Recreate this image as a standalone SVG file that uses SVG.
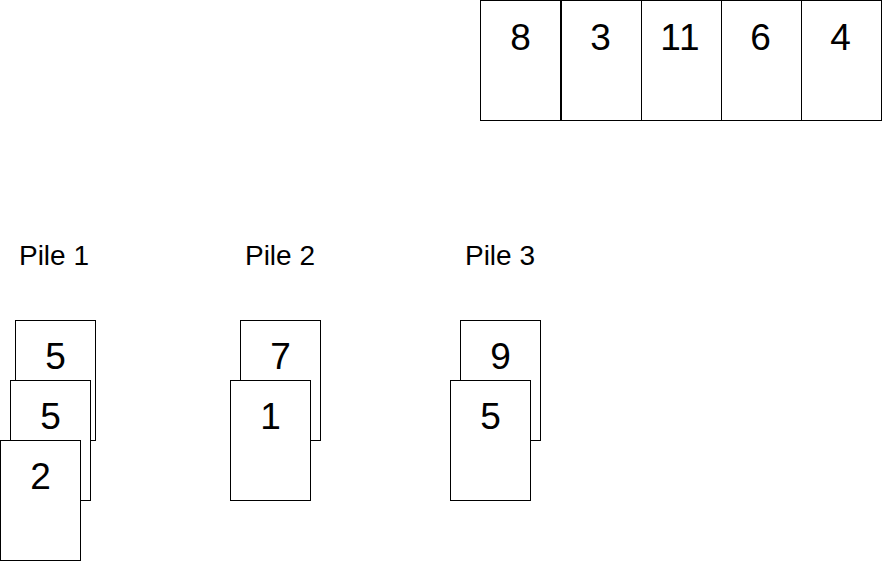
<svg xmlns="http://www.w3.org/2000/svg" width="882" height="561" viewBox="0 0 882 561">
<style>
.card{fill:#fff;stroke:#000;stroke-width:1}
.num{font-family:"Liberation Sans",Arial,sans-serif;font-size:37px;fill:#000;text-anchor:middle}
.lbl{font-family:"Liberation Sans",Arial,sans-serif;font-size:28px;fill:#000;text-anchor:middle}
</style>
<rect width="882" height="561" fill="#fff"/>
<g id="row">
<g id="c8"><rect class="card" x="480.5" y="0.5" width="80" height="120"/><text class="num" x="520.5" y="50">8</text></g>
<g id="c3"><rect class="card" x="561.5" y="0.5" width="80" height="120"/><text class="num" x="600.5" y="50">3</text></g>
<g id="c11"><rect class="card" x="641.5" y="0.5" width="80" height="120"/><text class="num" x="680.5" y="50" letter-spacing="1">11</text></g>
<g id="c6"><rect class="card" x="721.5" y="0.5" width="80" height="120"/><text class="num" x="760.5" y="50">6</text></g>
<g id="c4"><rect class="card" x="801.5" y="0.5" width="80" height="120"/><text class="num" x="840.5" y="50">4</text></g>
</g>
<g id="pile1">
<text class="lbl" x="54" y="265">Pile 1</text>
<g id="p1a"><rect class="card" x="15.5" y="320.5" width="80" height="120"/><text class="num" x="55.5" y="369">5</text></g>
<g id="p1b"><rect class="card" x="10.5" y="380.5" width="80" height="120"/><text class="num" x="50.5" y="429">5</text></g>
<g id="p1c"><rect class="card" x="0.5" y="440.5" width="80" height="120"/><text class="num" x="40.5" y="489">2</text></g>
</g>
<g id="pile2">
<text class="lbl" x="280" y="265">Pile 2</text>
<g id="p2a"><rect class="card" x="240.5" y="320.5" width="80" height="120"/><text class="num" x="280.5" y="369">7</text></g>
<g id="p2b"><rect class="card" x="230.5" y="380.5" width="80" height="120"/><text class="num" x="270.5" y="429">1</text></g>
</g>
<g id="pile3">
<text class="lbl" x="500" y="265">Pile 3</text>
<g id="p3a"><rect class="card" x="460.5" y="320.5" width="80" height="120"/><text class="num" x="500.5" y="369">9</text></g>
<g id="p3b"><rect class="card" x="450.5" y="380.5" width="80" height="120"/><text class="num" x="490.5" y="429">5</text></g>
</g>
</svg>
